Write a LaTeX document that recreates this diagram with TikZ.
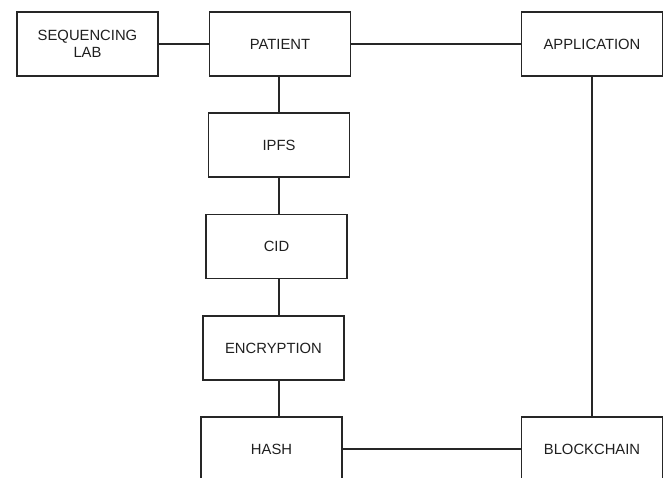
\documentclass[tikz,border=0pt]{standalone}
\usepackage{fontspec}
\setmainfont{Liberation Sans}
\usepackage{xcolor}
\usepackage{tikz}
\usetikzlibrary{positioning}

\begin{document}
\begin{tikzpicture}[x=1pt, y=-1pt,
    block/.style={rectangle, draw=black!85, line width=1.8pt, minimum width=141pt, minimum height=64pt, inner sep=0pt, align=center, text=black!88, font=\fontsize{14.8}{17}\selectfont},
    link/.style={draw=black!85, line width=1.4pt}]
      \useasboundingbox (0,0) rectangle (664,477);

      \node[block] (lab) at (87.5,44) {SEQUENCING\\LAB};
      \node[block] (patient) at (280,44) {PATIENT};
      \node[block] (app) at (592,44) {APPLICATION};
      \node[block] (ipfs) at (279,145) {IPFS};
      \node[block] (cid) at (276.5,246.5) {CID};
      \node[block] (encrypt) at (273.5,348) {ENCRYPTION};
      \node[block] (hash) at (271.5,449) {HASH};
      \node[block] (chain) at (592,449) {BLOCKCHAIN};

      \draw[link] (lab) -- (patient);
      \draw[link] (patient) -- (app);
      \draw[link] (app) -- (chain);
      \draw[link] (hash) -- (chain);
      % one straight spine through the column
      \draw[link] (ipfs.north |- patient.south) -- (ipfs.north);
      \draw[link] (ipfs.south) -- (ipfs.south |- cid.north);
      \draw[link] (ipfs.south |- cid.south) -- (ipfs.south |- encrypt.north);
      \draw[link] (ipfs.south |- encrypt.south) -- (ipfs.south |- hash.north);
    \end{tikzpicture}
\end{document}
